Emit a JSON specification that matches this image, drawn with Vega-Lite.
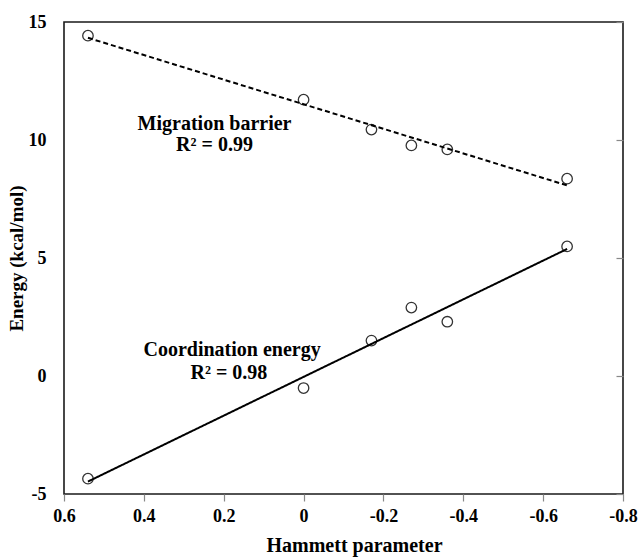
{
  "$schema": "https://vega.github.io/schema/vega-lite/v6.json",
  "width": 559,
  "height": 472,
  "autosize": {"type": "none"},
  "padding": {"left": 64, "top": 22, "right": 18, "bottom": 64},
  "background": "white",
  "config": {
    "view": {"stroke": "#1a1a1a", "strokeWidth": 1.6},
    "font": "Liberation Serif"
  },
  "datasets": {
    "pts": [
      {"series": "Migration barrier", "x": 0.54, "y": 14.42},
      {"series": "Migration barrier", "x": 0.0, "y": 11.71},
      {"series": "Migration barrier", "x": -0.17, "y": 10.44},
      {"series": "Migration barrier", "x": -0.27, "y": 9.77},
      {"series": "Migration barrier", "x": -0.36, "y": 9.6},
      {"series": "Migration barrier", "x": -0.66, "y": 8.36},
      {"series": "Coordination energy", "x": 0.54, "y": -4.35},
      {"series": "Coordination energy", "x": 0.0, "y": -0.51},
      {"series": "Coordination energy", "x": -0.17, "y": 1.5},
      {"series": "Coordination energy", "x": -0.27, "y": 2.9},
      {"series": "Coordination energy", "x": -0.36, "y": 2.3},
      {"series": "Coordination energy", "x": -0.66, "y": 5.49}
    ],
    "notes": [
      {"label": "Migration barrier", "x": 0.223, "y": 10.44},
      {"label": "R² = 0.99", "x": 0.223, "y": 9.52},
      {"label": "Coordination energy", "x": 0.179, "y": 0.86},
      {"label": "R² = 0.98", "x": 0.187, "y": -0.13}
    ]
  },
  "encoding": {
    "x": {
      "field": "x",
      "type": "quantitative",
      "scale": {"domain": [-0.8, 0.6], "reverse": true, "nice": false, "zero": false},
      "axis": {
        "values": [0.6, 0.4, 0.2, 0, -0.2, -0.4, -0.6, -0.8],
        "labelExpr": "'' + datum.value",
        "labelFlush": false,
        "labelOverlap": false,
        "grid": false,
        "domain": false,
        "tickSize": 7,
        "tickColor": "#888",
        "tickWidth": 1.2,
        "labelPadding": 6,
        "labelFont": "Liberation Serif",
        "labelFontWeight": "bold",
        "labelFontSize": 18,
        "labelColor": "#000",
        "title": "Hammett parameter",
        "titleFont": "Liberation Serif",
        "titleFontWeight": "bold",
        "titleFontSize": 20,
        "titleColor": "#000",
        "titlePadding": 10,
        "titleX": 290
      }
    }
  },
  "layer": [
    {
      "data": {"name": "pts"},
      "mark": {"type": "point", "shape": "circle", "filled": false, "size": 110, "stroke": "#333", "strokeWidth": 1.3, "opacity": 1},
      "encoding": {
        "y": {
          "field": "y",
          "type": "quantitative",
          "scale": {"domain": [-5, 15], "nice": false, "zero": false},
          "axis": {
            "orient": "left",
            "values": [-5, 0, 5, 10, 15],
            "labelExpr": "'' + datum.value",
            "labelFlush": false,
            "labelOverlap": false,
            "grid": false,
            "domain": false,
            "ticks": false,
            "labelPadding": 18,
            "labelFont": "Liberation Serif",
            "labelFontWeight": "bold",
            "labelFontSize": 18,
            "labelColor": "#000",
            "title": "Energy (kcal/mol)",
            "titleFont": "Liberation Serif",
            "titleFontWeight": "bold",
            "titleFontSize": 19,
            "titleColor": "#000",
            "titlePadding": 2
          }
        }
      }
    },
    {
      "data": {"name": "pts"},
      "transform": [{"regression": "y", "on": "x", "groupby": ["series"]}],
      "mark": {"type": "line", "color": "#000", "strokeWidth": 2},
      "encoding": {
        "y": {
          "field": "y",
          "type": "quantitative",
          "axis": {
            "orient": "right",
            "values": [-5, 0, 5, 10, 15],
            "labels": false,
            "grid": false,
            "domain": false,
            "tickSize": -7,
            "tickColor": "#888",
            "tickWidth": 1.2,
            "title": null
          }
        },
        "strokeDash": {
          "field": "series",
          "type": "nominal",
          "scale": {"domain": ["Migration barrier", "Coordination energy"], "range": [[5, 3], [1, 0]]},
          "legend": null
        }
      }
    },
    {
      "data": {"name": "notes"},
      "mark": {"type": "text", "font": "Liberation Serif", "fontWeight": "bold", "fontSize": 20, "align": "center", "baseline": "alphabetic", "color": "#000"},
      "encoding": {
        "y": {"field": "y", "type": "quantitative", "axis": null},
        "text": {"field": "label", "type": "nominal"}
      }
    }
  ],
  "resolve": {"axis": {"y": "independent"}}
}
